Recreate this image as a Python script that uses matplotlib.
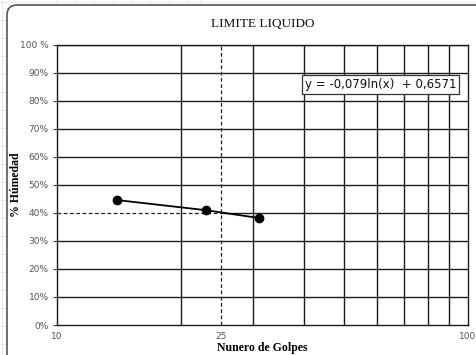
import numpy as np
import matplotlib.pyplot as plt
from matplotlib.patches import FancyBboxPatch
from matplotlib.ticker import FixedLocator, FuncFormatter, NullFormatter

golpes = [14.0, 23.0, 31.0]
humedad = [0.446, 0.410, 0.382]
ll_golpes = 25
ll_humedad = 0.40
y_ticks = [0, 0.1, 0.2, 0.3, 0.4, 0.5, 0.6, 0.7, 0.8, 0.9, 1.0]
y_labels = ['0%', '10%', '20%', '30%', '40%', '50%', '60%', '70%', '80%', '90%', '100 %']
x_labels = {10: '10', 25: '25', 100: '100'}
x_grid = [20, 30, 40, 50, 60, 70, 80, 90]
ecuacion = 'y = -0,079ln(x)  + 0,6571'

fig = plt.figure(figsize=(4.76, 3.55), dpi=100)

# faint spreadsheet grid in background
bg = fig.add_axes([0, 0, 1, 1], zorder=-5)
bg.set_xlim(0, 476)
bg.set_ylim(355, 0)
for xv in [2, 56, 75, 94, 113, 132, 150, 169, 188, 200]:
    bg.axvline(xv, color='#e6e6e6', lw=0.6, zorder=0)
for yv in range(2, 355, 18):
    bg.axhline(yv, color='#e6e6e6', lw=0.6, zorder=0)
bg.axis('off')
box = FancyBboxPatch((7, 5), 480, 360, boxstyle='round,pad=0,rounding_size=10',
                     transform=bg.transData, fc='white', ec='#555555', lw=1.2, zorder=2)
bg.add_patch(box)

ax = fig.add_axes([0.12, 0.0845, 0.863, 0.789])
ax.set_xscale('log')
ax.set_xlim(10, 100)
ax.set_ylim(0, 1.0)

ax.xaxis.set_major_locator(FixedLocator(list(x_labels.keys())))
ax.xaxis.set_major_formatter(FuncFormatter(lambda v, p: x_labels.get(int(round(v)), '')))
ax.xaxis.set_minor_locator(FixedLocator(x_grid))
ax.xaxis.set_minor_formatter(NullFormatter())
ax.grid(False)
for xv in x_grid:
    ax.axvline(xv, color='#1a1a1a', lw=1.0, zorder=1)
for yv in y_ticks[1:]:
    if yv == ll_humedad:
        ax.plot([ll_golpes, 100], [yv, yv], color='#1a1a1a', lw=1.0, zorder=1)
    else:
        ax.axhline(yv, color='#1a1a1a', lw=1.0, zorder=1)

ax.set_yticks(y_ticks)
ax.set_yticklabels(y_labels)
ax.tick_params(axis='both', which='both', length=0, labelsize=6.5, labelcolor='#555555', pad=3)
ax.tick_params(axis='y', length=3, width=0.8, color='#333333')
ax.tick_params(axis='x', pad=5)
for s in ax.spines.values():
    s.set_color('#1a1a1a')
    s.set_linewidth(1.0)

# liquid limit guides
ax.plot([ll_golpes, ll_golpes], [0, 1.0], ls=(0, (3, 2)), color='#222222', lw=0.9, zorder=2)
ax.plot([10, ll_golpes], [ll_humedad, ll_humedad], ls=(0, (3, 2)), color='#222222', lw=0.9, zorder=2)

ax.plot(golpes, humedad, color='black', lw=1.3, marker='o', ms=6, zorder=3)

ax.text(0.972, 0.86, ecuacion, transform=ax.transAxes, ha='right', va='center',
        fontsize=8.5, family='DejaVu Sans', color='#111111',
        bbox=dict(boxstyle='square,pad=0.25', fc='white', ec='#333333', lw=0.9), zorder=5)

ax.set_title('LIMITE LIQUIDO', family='Liberation Serif', fontsize=9.5, pad=13, color='#111111')
ax.set_ylabel('% Húmedad', family='Liberation Serif', fontsize=8.5, fontweight='bold')
ax.yaxis.set_label_coords(-0.085, 0.5)
ax.set_xlabel('Nunero de Golpes', family='Liberation Serif', fontsize=8.5, fontweight='bold', labelpad=1)

fig.savefig('out.png', dpi=100)
